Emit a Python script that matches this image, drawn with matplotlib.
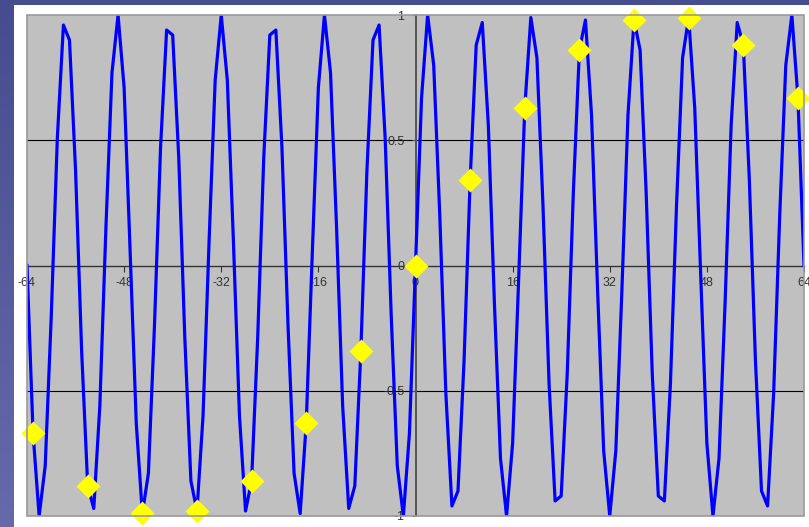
import numpy as np
import matplotlib
matplotlib.use("Agg")
import matplotlib.pyplot as plt

# sampled wave, one value per integer x from -64 to 64
wave_x = list(range(-64, 65))
wave_y = [
    0.00, -0.67, -1.00, -0.80, -0.20, 0.51, 0.96, 0.90, 0.38, -0.34,
    -0.88, -0.97, -0.56, 0.15, 0.77, 1.00, 0.71, 0.05, -0.63, -0.99,
    -0.83, -0.24, 0.47, 0.94, 0.92, 0.43, -0.29, -0.86, -0.98, -0.60,
    0.10, 0.74, 1.00, 0.74, 0.10, -0.60, -0.98, -0.86, -0.29, 0.43,
    0.92, 0.94, 0.47, -0.24, -0.83, -0.99, -0.63, 0.05, 0.71, 1.00,
    0.77, 0.15, -0.56, -0.97, -0.88, -0.34, 0.38, 0.90, 0.96, 0.51,
    -0.20, -0.80, -1.00, -0.67, 0.00, 0.67, 1.00, 0.80, 0.20, -0.51,
    -0.96, -0.90, -0.38, 0.34, 0.88, 0.97, 0.56, -0.15, -0.77, -1.00,
    -0.71, -0.05, 0.63, 0.99, 0.83, 0.24, -0.47, -0.94, -0.92, -0.43,
    0.29, 0.86, 0.98, 0.60, -0.10, -0.74, -1.00, -0.74, -0.10, 0.60,
    0.98, 0.86, 0.29, -0.43, -0.92, -0.94, -0.47, 0.24, 0.83, 0.99,
    0.63, -0.05, -0.71, -1.00, -0.77, -0.15, 0.56, 0.97, 0.88, 0.34,
    -0.38, -0.90, -0.96, -0.51, 0.20, 0.80, 1.00, 0.67, 0.00,
]

# yellow samples, every 9th point
sample_x = [-63, -54, -45, -36, -27, -18, -9, 0, 9, 18, 27, 36, 45, 54, 63]
sample_y = [-0.67, -0.88, -0.99, -0.98, -0.86, -0.63, -0.34, 0.00,
            0.34, 0.63, 0.86, 0.98, 0.99, 0.88, 0.67]

x_ticks = [-64, -48, -32, -16, 0, 16, 32, 48, 64]
y_ticks = [-1, -0.5, 0, 0.5, 1]
y_labels = ["-1", "-0.5", "0", "0.5", "1"]

plt.rcParams['font.family'] = ['Liberation Sans', 'DejaVu Sans']

W, H = 809, 527
fig = plt.figure(figsize=(W / 100, H / 100), dpi=100)
fig.patch.set_facecolor("white")

# slide background strips (left and top)
bg = fig.add_axes([0, 0, 1, 1], zorder=0)
bg.set_xlim(0, W)
bg.set_ylim(H, 0)
bg.axis("off")
grad = np.linspace(0, 1, 256).reshape(-1, 1)
top_c = np.array([0x45, 0x4D, 0x8E]) / 255
bot_c = np.array([0x66, 0x6A, 0xAA]) / 255
img = top_c + grad[..., None] * (bot_c - top_c)
img = img.reshape(256, 1, 3)
bg.imshow(img, extent=[0, 14, H, 0], aspect="auto")
bg.add_patch(plt.Rectangle((0, 0), W, 5, color="#454D8E", lw=0))

# plot area
left, right, top, bottom = 27, 804, 15, 516
ax = fig.add_axes([left / W, (H - bottom) / H, (right - left) / W, (bottom - top) / H], zorder=1)
ax.set_facecolor("#C0C0C0")
ax.set_xlim(-64, 64)
ax.set_ylim(-1, 1)

for y in [-0.5, 0.5]:
    ax.axhline(y, color="black", lw=0.8, zorder=1)

ax.plot(wave_x, wave_y, color="#0000FF", lw=2.3, zorder=3)
ax.plot(sample_x, sample_y, linestyle="none", marker="D", ms=12,
        mfc="#FFFF00", mec="none", zorder=4, clip_on=False)

ax.spines['left'].set_position('zero')
ax.spines['bottom'].set_position('zero')
ax.spines['left'].set_color("#555555")
ax.spines['left'].set_linewidth(1.4)
ax.spines['bottom'].set_color("#333333")
ax.spines['bottom'].set_linewidth(1.0)
for s in ['top', 'right']:
    ax.spines[s].set_visible(False)

# plot area border
ax.add_patch(plt.Rectangle((0, 0), 1, 1, transform=ax.transAxes, fill=False,
                           ec="#9A9A9A", lw=1.2, zorder=5, clip_on=False))

ax.set_xticks(x_ticks)
ax.set_xticklabels([str(v) for v in x_ticks])
ax.set_yticks(y_ticks)
ax.set_yticklabels(y_labels)
ax.tick_params(axis='x', direction='out', length=4, width=0.8, color="#333333",
               labelsize=9, labelcolor="#333333", pad=4)
ax.tick_params(axis='y', direction='out', length=3, width=0.8, color="#555555",
               labelsize=9, labelcolor="#333333", pad=5)
for t in ax.get_xticklabels() + ax.get_yticklabels():
    t.set_zorder(6)

fig.savefig("out.png", dpi=100, facecolor=fig.get_facecolor())
